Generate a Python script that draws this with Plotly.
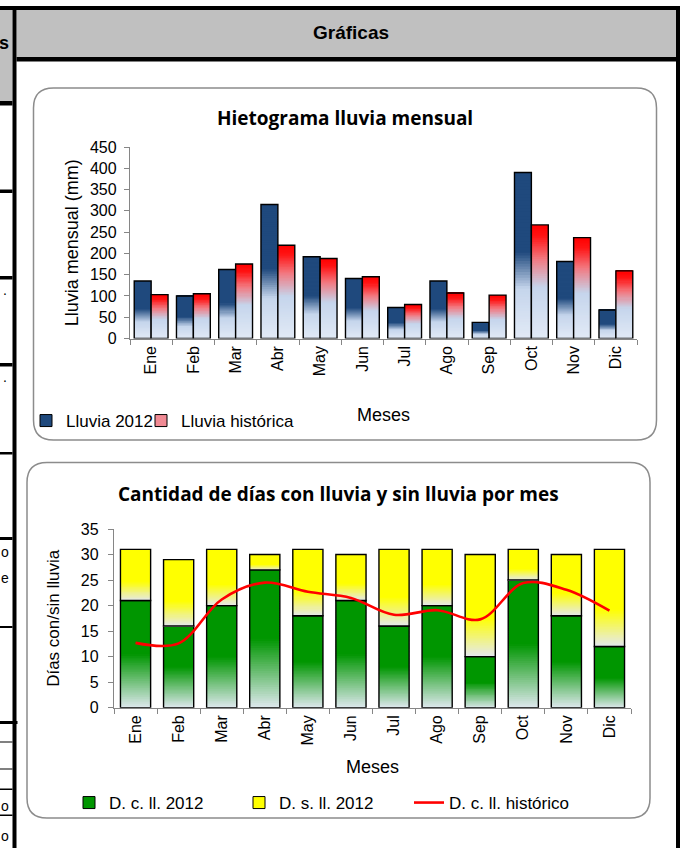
import plotly.graph_objects as go

# ---------------- data ----------------
meses = ['Ene', 'Feb', 'Mar', 'Abr', 'May', 'Jun', 'Jul', 'Ago', 'Sep', 'Oct', 'Nov', 'Dic']
lluvia_2012 = [135, 100, 162, 315, 192, 141, 73, 135, 38, 390, 181, 67]
lluvia_historica = [103, 105, 175, 219, 188, 145, 80, 107, 102, 267, 237, 159]
dias_con_lluvia_2012 = [21, 16, 20, 27, 18, 21, 16, 20, 10, 25, 18, 12]
dias_sin_lluvia_2012 = [10, 13, 11, 3, 13, 9, 15, 11, 20, 6, 12, 19]
dias_con_lluvia_historico = [12.7, 12.6, 21.2, 24.5, 22.7, 21.5, 18.2, 19.1, 17.3, 24.4, 23.1, 19.0]

# ---------------- helpers ----------------
W, H = 683, 848
ARIAL = "Liberation Sans, Arial, sans-serif"
TITLEF = "Open Sans, Lato, sans-serif"


def X(px):
    return px / W


def Y(py):
    return 1 - py / H


def interp(stops, f):
    for (f0, c0), (f1, c1) in zip(stops[:-1], stops[1:]):
        if f <= f1:
            t = 0 if f1 == f0 else (f - f0) / (f1 - f0)
            c = [round(a + (b - a) * t) for a, b in zip(c0, c1)]
            return f"rgb({c[0]},{c[1]},{c[2]})"
    c = stops[-1][1]
    return f"rgb({c[0]},{c[1]},{c[2]})"


C2012 = [(0.0, (226, 234, 246)), (0.3, (197, 213, 236)), (0.52, (31, 73, 125)), (1.0, (31, 73, 125))]
CHIST = [(0.0, (226, 234, 246)), (0.45, (197, 213, 236)), (0.7, (242, 120, 128)),
         (0.9, (255, 20, 20)), (1.0, (255, 0, 0))]
CGREEN = [(0.0, (222, 232, 238)), (0.5, (0, 150, 0)), (1.0, (0, 150, 0))]
CYELLOW = [(0.0, (228, 232, 240)), (0.38, (255, 255, 0)), (1.0, (255, 255, 0))]

NSEG = 60


def gradient_bars(fig, values, bases, stops, offset, width, xa, ya):
    """Draw each bar as stacked slices of a vertical gradient, then a black outline."""
    for k in range(NSEG):
        col = interp(stops, (k + 0.5) / NSEG)
        span = min(1.6, NSEG - k) / NSEG
        fig.add_trace(go.Bar(
            x=meses, y=[v * span for v in values],
            base=[b + v * k / NSEG for v, b in zip(values, bases)],
            offset=offset, width=width,
            marker=dict(color=col, line=dict(width=0)),
            hoverinfo='skip', showlegend=False, xaxis=xa, yaxis=ya))
    fig.add_trace(go.Bar(
        x=meses, y=values, base=bases, offset=offset, width=width,
        marker=dict(color='rgba(0,0,0,0)', line=dict(color='black', width=1.4)),
        showlegend=False, xaxis=xa, yaxis=ya))


fig = go.Figure()

# ---------------- chart 1: Hietograma ----------------
zeros = [0] * len(meses)
gradient_bars(fig, lluvia_2012, zeros, C2012, -0.4, 0.4, 'x', 'y')
gradient_bars(fig, lluvia_historica, zeros, CHIST, 0.0, 0.4, 'x', 'y')
fig.add_trace(go.Bar(x=[None], y=[None], name='Lluvia 2012', legend='legend',
                     marker=dict(color='#1F497D', line=dict(color='black', width=1)),
                     xaxis='x', yaxis='y'))
fig.add_trace(go.Bar(x=[None], y=[None], name='Lluvia histórica', legend='legend3',
                     marker=dict(color='#F08A94', line=dict(color='black', width=1)),
                     xaxis='x', yaxis='y'))

# ---------------- chart 2: días con / sin lluvia ----------------
gradient_bars(fig, dias_con_lluvia_2012, zeros, CGREEN, -0.35, 0.7, 'x2', 'y2')
gradient_bars(fig, dias_sin_lluvia_2012, dias_con_lluvia_2012, CYELLOW, -0.35, 0.7, 'x2', 'y2')
fig.add_trace(go.Scatter(x=meses, y=dias_con_lluvia_historico, mode='lines',
                         line=dict(color='#FF0000', width=2.6, shape='spline', smoothing=1.0),
                         showlegend=False, xaxis='x2', yaxis='y2'))
fig.add_trace(go.Bar(x=[None], y=[None], name='D. c. ll. 2012', legend='legend2', legendrank=1,
                     marker=dict(color='#009600', line=dict(color='black', width=1)),
                     xaxis='x2', yaxis='y2'))
fig.add_trace(go.Bar(x=[None], y=[None], name='D. s. ll. 2012', legend='legend2', legendrank=2,
                     marker=dict(color='#FFFF00', line=dict(color='black', width=1)),
                     xaxis='x2', yaxis='y2'))
fig.add_trace(go.Scatter(x=[None], y=[None], name='D. c. ll. histórico', legend='legend2',
                         legendrank=3, mode='lines', line=dict(color='#FF0000', width=2.6),
                         xaxis='x2', yaxis='y2'))

# ---------------- axes ----------------
axis_common = dict(showgrid=False, zeroline=False, showline=True, linecolor='#868686',
                   linewidth=1.3, ticks='outside', ticklen=5, tickcolor='#868686',
                   tickwidth=1.3, automargin=False, fixedrange=True,
                   tickfont=dict(family=ARIAL, size=16, color='black'))

fig.update_layout(
    xaxis=dict(domain=[X(130), X(637)], anchor='y', type='category', tickangle=-90,
               tickson='boundaries',
               title=dict(text='Meses', font=dict(family=ARIAL, size=18, color='black'),
                          standoff=33),
               **axis_common),
    yaxis=dict(domain=[Y(338.5), Y(147)], anchor='x', range=[0, 450], dtick=50,
               ticklabelstandoff=4,
               title=dict(text='Lluvia mensual (mm)',
                          font=dict(family=ARIAL, size=18, color='black'), standoff=6),
               **axis_common),
    xaxis2=dict(domain=[X(114), X(631)], anchor='y2', type='category', tickangle=-90,
                tickson='boundaries',
                title=dict(text='Meses', font=dict(family=ARIAL, size=18, color='black'),
                           standoff=15),
                **axis_common),
    yaxis2=dict(domain=[Y(707.7), Y(529)], anchor='x2', range=[0, 35], dtick=5,
                ticklabelstandoff=6,
                title=dict(text='Días con/sin lluvia',
                           font=dict(family=ARIAL, size=17, color='black'), standoff=16),
                **axis_common),
)

# ---------------- legends ----------------
leg_common = dict(orientation='h', xanchor='left', yanchor='middle', itemwidth=30,
                  bgcolor='rgba(0,0,0,0)', font=dict(family=ARIAL, size=17, color='black'))
fig.update_layout(
    legend=dict(x=X(26), y=Y(421), **leg_common),
    legend3=dict(x=X(141), y=Y(421), **leg_common),
    legend2=dict(x=X(69), y=Y(803), entrywidth=125, traceorder='normal', **leg_common),
)

# ---------------- page decoration (spreadsheet frame, chart boxes) ----------------
shapes = []


def rect(x0, y0, x1, y1, color, layer='below'):
    shapes.append(dict(type='rect', xref='paper', yref='paper', x0=X(x0), x1=X(x1),
                       y0=Y(y1), y1=Y(y0), fillcolor=color, line=dict(width=0), layer=layer))


def rounded_box(l, t, r, b, rad):
    p = (f"M {X(l + rad)},{Y(t)} L {X(r - rad)},{Y(t)} Q {X(r)},{Y(t)} {X(r)},{Y(t + rad)} "
         f"L {X(r)},{Y(b - rad)} Q {X(r)},{Y(b)} {X(r - rad)},{Y(b)} "
         f"L {X(l + rad)},{Y(b)} Q {X(l)},{Y(b)} {X(l)},{Y(b - rad)} "
         f"L {X(l)},{Y(t + rad)} Q {X(l)},{Y(t)} {X(l + rad)},{Y(t)} Z")
    shapes.append(dict(type='path', xref='paper', yref='paper', path=p, fillcolor='white',
                       line=dict(color='#8C8C8C', width=1.5), layer='below'))


# header band
rect(16.5, 10, 676, 57, '#C0C0C0')
rect(0, 10, 12.5, 101, '#C0C0C0')
# thick frame lines
rect(0, 6, 680, 10, 'black')
rect(12.5, 6, 16.5, H, 'black')
rect(676, 6, 680, H, 'black')
rect(16.5, 57, 680, 61.5, 'black')
# left table row lines
for y0, y1, x1 in [(101, 105.5, 12.5), (189.5, 193, 12.5), (276, 279.5, 12.5), (363, 366.5, 12.5),
                   (452, 454.5, 12.5), (537, 540, 12.5), (626, 628, 12.5), (721, 724, 17.5),
                   (741.5, 742.5, 12.5), (768.5, 769.5, 12.5), (788.5, 790, 12.5),
                   (814.5, 816, 12.5)]:
    rect(0, y0, x1, y1, 'black')

rounded_box(33.5, 88, 656.5, 440, 20)
rounded_box(27, 462.5, 650, 818, 20)


def note(text, px, py, size, family=ARIAL, xanchor='center'):
    return dict(text=text, x=X(px), y=Y(py), xref='paper', yref='paper', xanchor=xanchor,
                yanchor='middle', showarrow=False,
                font=dict(family=family, size=size, color='black'))


annotations = [
    note('<b>Gráficas</b>', 351, 33, 19),
    note('<b>Hietograma lluvia mensual</b>', 345, 118, 19, TITLEF),
    note('<b>Cantidad de días con lluvia y sin lluvia por mes</b>', 338, 494, 19, TITLEF),
    note('<b>s</b>', 11, 43, 18, xanchor='right'),
]
for tx, px, py in [('.', 9, 290), ('.', 9, 377), ('o', 11, 552), ('e', 11, 578),
                   ('o', 11, 806), ('o', 11, 836)]:
    annotations.append(note(tx, px, py, 14, xanchor='right'))

fig.update_layout(
    shapes=shapes, annotations=annotations,
    barmode='overlay', width=W, height=H, autosize=False,
    margin=dict(l=0, r=0, t=0, b=0, pad=0, autoexpand=False),
    paper_bgcolor='white', plot_bgcolor='rgba(0,0,0,0)',
    showlegend=True,
)

fig.write_html("out.html", config={'displayModeBar': False},
               post_script="document.body.style.margin='0';document.body.style.overflow='hidden';")
